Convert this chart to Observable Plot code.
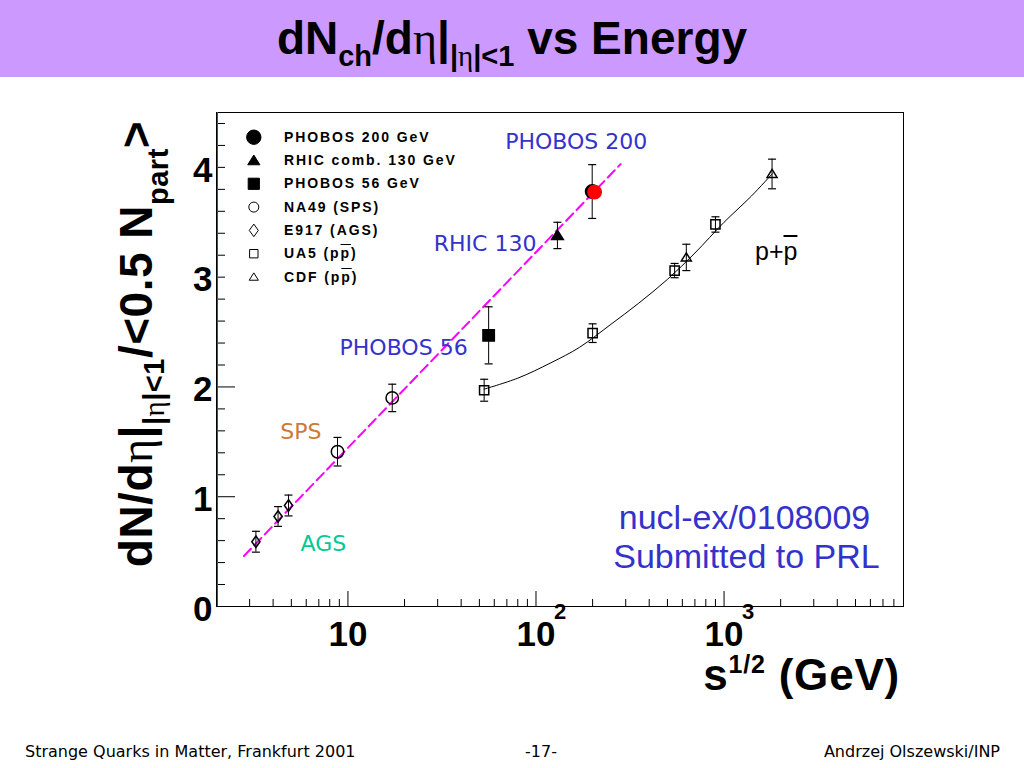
<!DOCTYPE html>
<html><head><meta charset="utf-8">
<script src="https://cdn.jsdelivr.net/npm/d3@7"></script>
<script src="https://cdn.jsdelivr.net/npm/@observablehq/plot@0.6"></script>
<style>
html,body{margin:0;padding:0;background:#fff;overflow:hidden;}
#page{position:relative;width:1024px;height:768px;overflow:hidden;font-family:"Liberation Sans",Arial,sans-serif;color:#000;}
#chart{position:absolute;left:0;top:0;}
#banner{position:absolute;left:0;top:0;width:1024px;height:77px;background:#CC99FF;text-align:center;font-weight:bold;font-size:46px;line-height:77px;white-space:nowrap;}
.sub{font-size:29px;position:relative;top:12px;}
.sup{font-size:25px;line-height:25px;position:relative;top:-17px;}
.eta{font-family:"Liberation Serif","DejaVu Serif",serif;font-weight:normal;}
#ytitle{position:absolute;left:139px;top:344px;transform:translate(-50%,-50%) rotate(-90deg);font-weight:bold;font-size:46px;line-height:50px;letter-spacing:0.5px;white-space:nowrap;}
#xtitle{position:absolute;right:124px;top:655px;font-weight:bold;font-size:44px;line-height:40px;letter-spacing:0.8px;white-space:nowrap;}
.leg{position:absolute;left:284px;font-weight:bold;font-size:14px;line-height:14px;letter-spacing:1.9px;white-space:nowrap;}
.ov{text-decoration:overline;}
#pp{position:absolute;left:755px;top:239px;font-size:25px;line-height:25px;white-space:nowrap;}
.foot{position:absolute;top:743px;font-family:"DejaVu Sans",sans-serif;font-size:16px;line-height:18px;white-space:nowrap;}
</style></head>
<body><div id="page"><div id="chart"></div></div>
<script>
// ---- axis ticks ----
const xDomain = [2, 9000];
const yDomain = [0, 4.5];
const xMajor = [10, 100, 1000];
const xTickBase = ["10", "10", "10"];
const xTickExp = ["", "2", "3"];
const xMinor = [3,4,5,6,7,8,9,20,30,40,50,60,70,80,90,200,300,400,500,600,700,800,900,2000,3000,4000,5000,6000,7000,8000];
const yMajor = [0, 1, 2, 3, 4];
const yTickLabels = ["0", "1", "2", "3", "4"];
const yMinor = [0.2,0.4,0.6,0.8,1.2,1.4,1.6,1.8,2.2,2.4,2.6,2.8,3.2,3.4,3.6,3.8,4.2,4.4];

// ---- data ----
const e917E = [3.24, 4.25, 4.83], e917Y = [0.59, 0.82, 0.92], e917Err = [0.095, 0.09, 0.095];
const na49E = [8.8, 17.2], na49Y = [1.41, 1.90], na49Err = [0.13, 0.125];
const phobos56E = [56], phobos56Y = [2.47], phobos56Err = [0.26];
const rhic130E = [130], rhic130Y = [3.38], rhic130Err = [0.12];
const phobos200E = [199], phobos200Y = [3.78], phobos200Err = [0.245];
const phobos200NewE = [205], phobos200NewY = [3.775];
const ua5E = [53, 200, 546, 900], ua5Y = [1.97, 2.49, 3.06, 3.48], ua5Err = [0.10, 0.085, 0.065, 0.07];
const cdfE = [630, 1800], cdfY = [3.18, 3.94], cdfErr = [0.12, 0.135];
const aaFitE = [2.8, 282], aaFitY = [0.46, 4.03];
const ppFitE = [53, 80, 120, 170, 250, 350, 500, 700, 1000, 1400, 1800];
const ppFitY = [1.98, 2.08, 2.22, 2.36, 2.57, 2.76, 2.98, 3.22, 3.50, 3.74, 3.94];

// ---- text ----
const legendNames = ["PHOBOS 200 GeV", "RHIC comb. 130 GeV", "PHOBOS 56 GeV", "NA49 (SPS)", "E917 (AGS)", "UA5 (p\u0305p)", "CDF (p\u0305p)"];
const refText = ["nucl-ex/0108009", "Submitted to PRL"];
const footer = ["Strange Quarks in Matter, Frankfurt 2001", "-17-", "Andrzej Olszewski/INP"];

const W = 1024, H = 768, mL = 216, mR = 121, mT = 112, mB = 162;
const fw = W - mL - mR, fh = H - mT - mB;

const rad = s => Math.sqrt(s / Math.PI);
const capSym = {draw(c, s){const r = rad(s); c.moveTo(-r, 0); c.lineTo(r, 0);}};
const triSym = {draw(c, s){const r = rad(s); c.moveTo(0, -0.9*r); c.lineTo(r, 0.7*r); c.lineTo(-r, 0.7*r); c.closePath();}};
const sqSym = {draw(c, s){const r = rad(s); c.rect(-r, -r, 2*r, 2*r);}};
const diaSym = {draw(c, s){const r = rad(s); c.moveTo(0, -r); c.lineTo(0.72*r, 0); c.lineTo(0, r); c.lineTo(-0.72*r, 0); c.closePath();}};

const pts = (E, Y, Err) => E.map((x, i) => ({x, y: Y[i], e: Err ? Err[i] : 0}));
const e917 = pts(e917E, e917Y, e917Err);
const na49 = pts(na49E, na49Y, na49Err);
const p56 = pts(phobos56E, phobos56Y, phobos56Err);
const r130 = pts(rhic130E, rhic130Y, rhic130Err);
const p200 = pts(phobos200E, phobos200Y, phobos200Err);
const p200new = pts(phobos200NewE, phobos200NewY);
const ua5 = pts(ua5E, ua5Y, ua5Err);
const cdf = pts(cdfE, cdfY, cdfErr);
const aaFit = pts(aaFitE, aaFitY);
const ppFit = pts(ppFitE, ppFitY);

function errMarks(data) {
  return [
    Plot.ruleX(data, {x: "x", y1: d => d.y - d.e, y2: d => d.y + d.e, stroke: "black", strokeWidth: 1}),
    Plot.dot(data, {x: "x", y: d => d.y - d.e, symbol: capSym, r: 4, stroke: "black", fill: "none", strokeWidth: 1.2}),
    Plot.dot(data, {x: "x", y: d => d.y + d.e, symbol: capSym, r: 4, stroke: "black", fill: "none", strokeWidth: 1.2})
  ];
}

const legendStyle = [
  {symbol: "circle", fill: "black", r: 7.2},
  {symbol: triSym, fill: "black", r: 6.1},
  {symbol: sqSym, fill: "black", r: 5.6},
  {symbol: "circle", fill: "none", r: 5},
  {symbol: diaSym, fill: "none", r: 6.3},
  {symbol: sqSym, fill: "none", r: 4.2},
  {symbol: triSym, fill: "none", r: 4.6}
];
const legendMarks = legendNames.map((n, i) => Plot.dot([n], {
  frameAnchor: "top-left", dx: 37.3, dy: 24.7 + i * 23.3,
  symbol: legendStyle[i].symbol, fill: legendStyle[i].fill, r: legendStyle[i].r,
  stroke: "black", strokeWidth: 1
}));

const blue = "#3333CC";
const annFont = "DejaVu Sans, Verdana, sans-serif";

const chart = Plot.plot({
  width: W, height: H,
  marginLeft: mL, marginRight: mR, marginTop: mT, marginBottom: mB,
  x: {type: "log", domain: xDomain},
  y: {domain: yDomain},
  style: {fontFamily: "Liberation Sans, Arial, sans-serif", background: "white", color: "black"},
  marks: [
    // ticks inside the frame
    Plot.tickX(xMajor, {x: d => d, insetTop: fh - 15, stroke: "black"}),
    Plot.tickX(xMinor, {x: d => d, insetTop: fh - 7, stroke: "black"}),
    Plot.tickY(yMajor.filter(v => v < 3), {y: d => d, insetRight: fw - 19, stroke: "black"}),
    Plot.tickY(yMajor.filter(v => v >= 3), {y: d => d, insetRight: fw - 9, stroke: "black"}),
    Plot.tickY(yMinor, {y: d => d, insetRight: fw - 9, stroke: "black"}),
    Plot.frame({stroke: "black"}),
    Plot.ruleX([xDomain[0]], {stroke: "#b02020", dx: 1}),
    Plot.axisX({ticks: xMajor, tickFormat: d => xTickBase[xMajor.indexOf(d)], tickSize: 0, tickPadding: 15,
      fontSize: 35, fontWeight: "bold", label: null}),
    Plot.text(xMajor, {x: d => d, text: d => xTickExp[xMajor.indexOf(d)], frameAnchor: "bottom",
      textAnchor: "start", dx: 18, dy: 12, fontSize: 22, fontWeight: "bold", fill: "black"}),
    Plot.axisY({ticks: yMajor, tickFormat: d => yTickLabels[yMajor.indexOf(d)], tickSize: 0, tickPadding: 4,
      fontSize: 35, fontWeight: "bold", label: null, dy: 3}),
    // fits
    Plot.line(ppFit, {x: "x", y: "y", curve: "catmull-rom", stroke: "black", strokeWidth: 1}),
    Plot.line(aaFit, {x: "x", y: "y", stroke: "#FF00FF", strokeWidth: 2, strokeDasharray: "10,5"}),
    // error bars
    ...errMarks(e917), ...errMarks(na49), ...errMarks(p56), ...errMarks(r130), ...errMarks(p200),
    ...errMarks(ua5), ...errMarks(cdf),
    // markers
    Plot.dot(e917, {x: "x", y: "y", symbol: diaSym, r: 5.7, fill: "none", stroke: "black"}),
    Plot.dot(na49, {x: "x", y: "y", symbol: "circle", r: 6.2, fill: "none", stroke: "black"}),
    Plot.dot(ua5, {x: "x", y: "y", symbol: sqSym, r: 4.6, fill: "none", stroke: "black"}),
    Plot.dot(cdf, {x: "x", y: "y", symbol: triSym, r: 5, fill: "none", stroke: "black"}),
    Plot.dot(p56, {x: "x", y: "y", symbol: sqSym, r: 5.7, fill: "black", stroke: "black"}),
    Plot.dot(r130, {x: "x", y: "y", symbol: triSym, r: 5.9, fill: "black", stroke: "black"}),
    Plot.dot(p200, {x: "x", y: "y", symbol: "circle", r: 6.7, fill: "black", stroke: "black"}),
    Plot.dot(p200new, {x: "x", y: "y", symbol: "circle", r: 6.7, fill: "#FF0000", stroke: "#FF0000"}),
    // annotations
    Plot.text(p200, {x: "x", y: "y", text: () => "PHOBOS 200", dx: -16, dy: -50, fill: blue, fontSize: 22, fontFamily: annFont}),
    Plot.text(r130, {x: "x", y: "y", text: () => "RHIC 130", textAnchor: "end", dx: -21, dy: 9, fill: blue, fontSize: 22, fontFamily: annFont}),
    Plot.text(p56, {x: "x", y: "y", text: () => "PHOBOS 56", textAnchor: "end", dx: -21, dy: 13, fill: blue, fontSize: 22, fontFamily: annFont}),
    Plot.text(na49.slice(0, 1), {x: "x", y: "y", text: () => "SPS", textAnchor: "end", dx: -16, dy: -20, fill: "#CC7A33", fontSize: 22, fontFamily: annFont}),
    Plot.text(e917.slice(2), {x: "x", y: "y", text: () => "AGS", textAnchor: "start", dx: 12, dy: 38, fill: "#00C896", fontSize: 22, fontFamily: annFont}),
    Plot.text(refText.slice(0, 1), {text: d => d, frameAnchor: "bottom-right", textAnchor: "middle", dx: -159, dy: -78, fill: blue, fontSize: 34}),
    Plot.text(refText.slice(1), {text: d => d, frameAnchor: "bottom-right", textAnchor: "middle", dx: -157, dy: -39, fill: blue, fontSize: 34}),
    ...legendMarks
  ]
});
document.getElementById("chart").appendChild(chart);

const page = document.getElementById("page");
const add = (html) => { page.insertAdjacentHTML("beforeend", html); };

add(`<div id="banner">dN<span class="sub">ch</span>/d<span class="eta">η</span>|<span class="sub">|<span class="eta">η</span>|&lt;1</span> vs Energy</div>`);
add(`<div id="ytitle">dN/d<span class="eta">η</span>|<span class="sub">|<span class="eta">η</span>|&lt;1</span>/&lt;0.5 N<span class="sub" style="top:16px">part</span>&gt;</div>`);
add(`<div id="xtitle">s<span class="sup">1/2</span> (GeV)</div>`);
legendNames.forEach((n, i) => {
  const nm = n.replace("(p\u0305p)", "(p<span class=\"ov\">p</span>)");
  add(`<div class="leg" style="top:${(136.7 + i * 23.3 - 7).toFixed(1)}px">${nm}</div>`);
});
add(`<div id="pp">p+<span class="ov">p</span></div>`);
add(`<div class="foot" style="left:25px">${footer[0]}</div>`);
add(`<div class="foot" style="left:525px">${footer[1]}</div>`);
add(`<div class="foot" style="right:24px">${footer[2]}</div>`);
</script>
</body></html>
